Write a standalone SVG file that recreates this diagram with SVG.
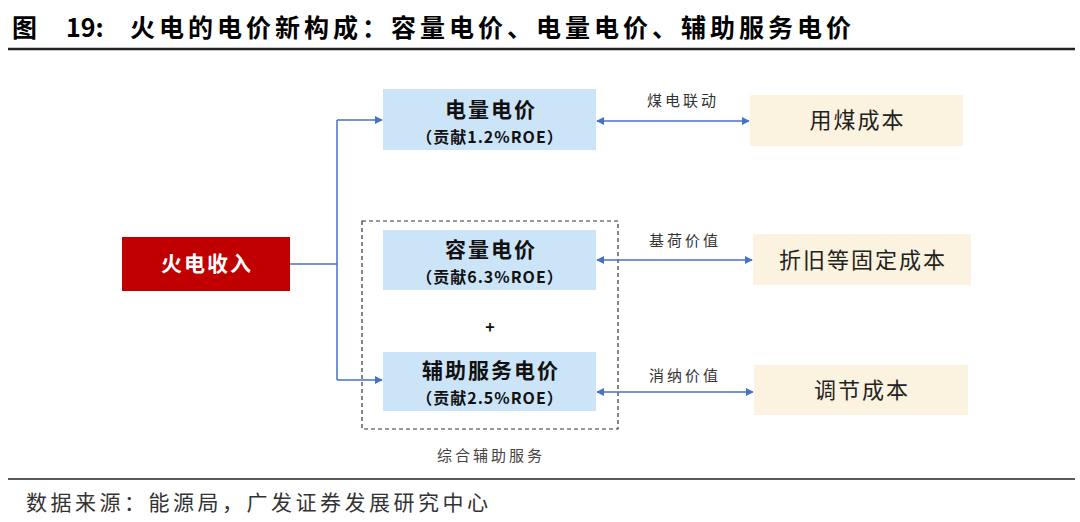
<svg xmlns="http://www.w3.org/2000/svg" width="1080" height="522" viewBox="0 0 1080 522">
<defs>
<style>
.t{font-family:"Noto Sans CJK SC","Liberation Sans",sans-serif}
.title{font-size:25px;font-weight:bold;fill:#000}
.bx{fill:#CCE4F7}
.cx{fill:#FBF2DF}
.bt{font-size:21px;font-weight:bold;fill:#111;text-anchor:middle;letter-spacing:2px}
.bs{font-size:16px;font-weight:bold;fill:#111;text-anchor:middle;letter-spacing:1px}
.ct{font-size:22px;fill:#222;text-anchor:middle;letter-spacing:2px}
.lb{font-size:15px;fill:#333;text-anchor:middle;letter-spacing:3px}
.ln{stroke:#4472C4;stroke-width:1.5;fill:none}
</style>
<marker id="ah" viewBox="0 0 10 10" refX="9" refY="5" markerWidth="8" markerHeight="8" orient="auto-start-reverse" markerUnits="userSpaceOnUse">
<path d="M0,0 L10,5 L0,10 z" fill="#4472C4"/>
</marker>
</defs>
<rect width="1080" height="522" fill="#fff"/>
<text class="t title" y="37"><tspan x="12">图</tspan><tspan x="66">19:</tspan><tspan x="130" letter-spacing="4">火电的电价新构成：容量电价、电量电价、辅助服务电价</tspan></text>
<line x1="8" y1="49" x2="1075" y2="49" stroke="#222" stroke-width="2.5"/>

<g id="income">
<rect x="122" y="237" width="168" height="54" fill="#C00000"/>
<text class="t" x="207" y="271" font-size="21" font-weight="bold" fill="#fff" text-anchor="middle" letter-spacing="2">火电收入</text>
</g>

<g id="group-ancillary">
<rect x="362" y="221" width="256" height="208" fill="none" stroke="#333" stroke-width="1.2" stroke-dasharray="4,3"/>
<text class="t" x="491" y="461" font-size="15" fill="#444" text-anchor="middle" letter-spacing="3">综合辅助服务</text>
<text class="t" x="490" y="333" font-size="16" font-weight="bold" fill="#111" text-anchor="middle">+</text>
</g>

<g id="energy-price">
<rect class="bx" x="383" y="89" width="213" height="61"/>
<text class="t bt" x="491" y="117">电量电价</text>
<text class="t bs" x="490" y="143">（贡献1.2%ROE）</text>
</g>
<g id="capacity-price">
<rect class="bx" x="383" y="230" width="213" height="60"/>
<text class="t bt" x="491" y="257">容量电价</text>
<text class="t bs" x="490" y="283">（贡献6.3%ROE）</text>
</g>
<g id="ancillary-price">
<rect class="bx" x="383" y="352" width="213" height="59"/>
<text class="t bt" x="491" y="378">辅助服务电价</text>
<text class="t bs" x="490" y="404">（贡献2.5%ROE）</text>
</g>

<g id="coal-cost">
<rect class="cx" x="750" y="95" width="213" height="51"/>
<text class="t ct" x="857.5" y="128">用煤成本</text>
</g>
<g id="fixed-cost">
<rect class="cx" x="753" y="234" width="218" height="51"/>
<text class="t ct" x="863" y="268">折旧等固定成本</text>
</g>
<g id="reg-cost">
<rect class="cx" x="754" y="365" width="214" height="50"/>
<text class="t ct" x="862" y="398">调节成本</text>
</g>

<g id="connectors">
<path class="ln" d="M290,264 H337"/>
<path class="ln" d="M337,120 V380"/>
<path class="ln" d="M337,120 H382" marker-end="url(#ah)"/>
<path class="ln" d="M337,380 H382" marker-end="url(#ah)"/>
<path class="ln" d="M597,121 H749" marker-start="url(#ah)" marker-end="url(#ah)"/>
<path class="ln" d="M597,260 H752" marker-start="url(#ah)" marker-end="url(#ah)"/>
<path class="ln" d="M597,392 H753" marker-start="url(#ah)" marker-end="url(#ah)"/>
<text class="t lb" x="683" y="106">煤电联动</text>
<text class="t lb" x="685" y="246">基荷价值</text>
<text class="t lb" x="685" y="381">消纳价值</text>
</g>

<line x1="8" y1="479" x2="1075" y2="479" stroke="#222" stroke-width="1.5"/>
<text class="t" x="26" y="510" font-size="21" fill="#333" letter-spacing="3.5">数据来源：能源局，广发证券发展研究中心</text>
</svg>
